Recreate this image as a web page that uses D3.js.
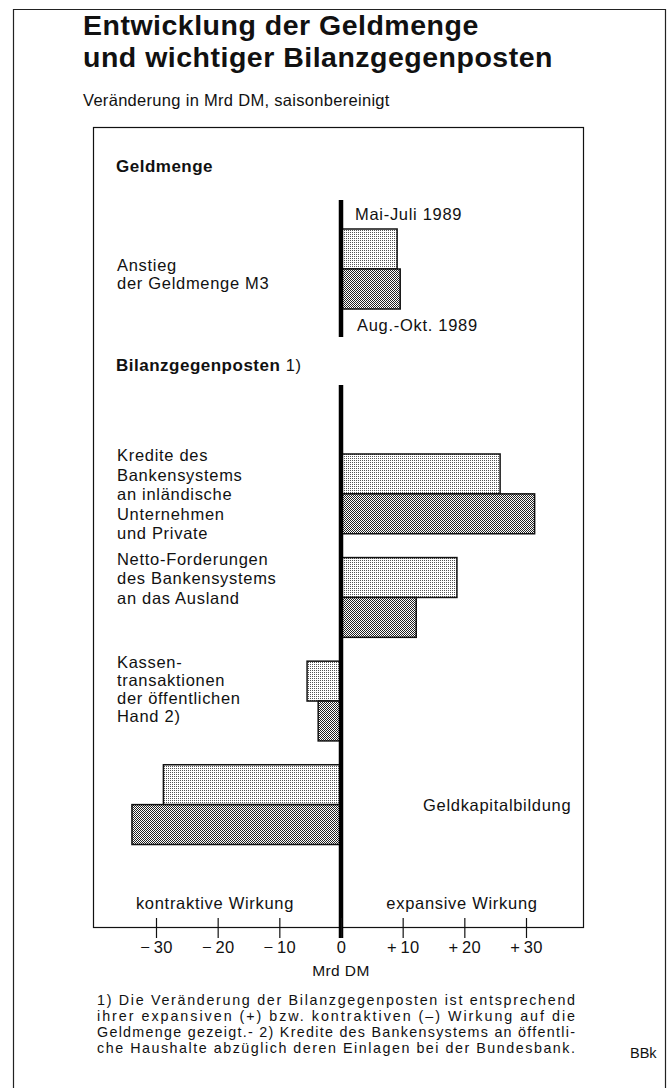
<!DOCTYPE html>
<html>
<head>
<meta charset="utf-8">
<script src="https://cdn.jsdelivr.net/npm/d3@7"></script>
<style>
  body { margin: 0; background: #fff; }
  svg text { font-family: "Liberation Sans", Arial, Helvetica, sans-serif; fill: #111; }
  .lab { font-size: 16.5px; letter-spacing: 0.7px; }
  .head { font-size: 17px; font-weight: bold; letter-spacing: 0.5px; }
  .foot { font-size: 14.3px; }
</style>
</head>
<body>
<svg id="chart" width="667" height="1088"></svg>
<script>
// Entwicklung der Geldmenge und wichtiger Bilanzgegenposten
// Veraenderung in Mrd DM, saisonbereinigt - two periods per item

const periods = ["Mai-Juli 1989", "Aug.-Okt. 1989"];

// Geldmenge M3
const m3Label = ["Anstieg", "der Geldmenge M3"];
const m3Values = [9.1, 9.6];

// Bilanzgegenposten
const posten = ["Kredite", "Netto-Forderungen", "Kassentransaktionen", "Geldkapitalbildung"];
const maiJuli = [25.8, 18.8, -5.5, -28.8];
const augOkt = [31.4, 12.2, -3.7, -33.9];
const postenLabels = [
    ["Kredite des", "Bankensystems", "an inländische", "Unternehmen", "und Private"],
    ["Netto-Forderungen", "des Bankensystems", "an das Ausland"],
    ["Kassen-", "transaktionen", "der öffentlichen", "Hand 2)"],
    ["Geldkapitalbildung"]
];

const tickValues = [-30, -20, -10, 0, 10, 20, 30];
const tickLabels = ["\u2212\u200930", "\u2212\u200920", "\u2212\u200910", "0", "+\u200910", "+\u200920", "+\u200930"];

const footnote = [
    "1) Die Veränderung der Bilanzgegenposten ist entsprechend",
    "ihrer expansiven (+) bzw. kontraktiven (\u2013) Wirkung auf die",
    "Geldmenge gezeigt.- 2) Kredite des Bankensystems an öffentli-",
    "che Haushalte abzüglich deren Einlagen bei der Bundesbank."
];

let svg = d3.select("#chart");

// box of the chart
let box = {left: 93, right: 583, top: 127, bottom: 927};

let x = d3.scaleLinear([-30, 30], [156, 526]);

// group scales, one for the M3 part, one for the gegenposten
let yM3 = d3.scaleBand(["M3"], [229, 309]).padding(0);
let yPosten = d3.scaleBand(posten, [454, 844.5]).paddingInner(0.23).paddingOuter(0);
let ySub = d3.scaleBand([0, 1], [0, yPosten.bandwidth()]);

// fill patterns like the printed raster
let defs = svg.append("defs");
let pLight = defs.append("pattern").attr("id", "light")
    .attr("width", 2).attr("height", 2).attr("patternUnits", "userSpaceOnUse");
pLight.append("rect").attr("width", 2).attr("height", 2).attr("fill", "#fff");
pLight.append("rect").attr("width", 1).attr("height", 1).attr("fill", "#555");

let pDark = defs.append("pattern").attr("id", "dark")
    .attr("width", 2).attr("height", 2).attr("patternUnits", "userSpaceOnUse");
pDark.append("rect").attr("width", 2).attr("height", 2).attr("fill", "#fff");
pDark.append("rect").attr("width", 1).attr("height", 1).attr("fill", "#222");
pDark.append("rect").attr("x", 1).attr("y", 1).attr("width", 1).attr("height", 1).attr("fill", "#222");

let fills = ["url(#light)", "url(#dark)"];

// outer frame
svg.append("path")
    .attr("d", "M13.5,1088 V9.5 H665.5 V1088")
    .attr("fill", "none").attr("stroke", "#222").attr("stroke-width", 1.2);

// title
svg.append("text").attr("x", 83).attr("y", 35)
    .attr("font-size", 28.5).attr("font-weight", "bold").attr("letter-spacing", 0.5)
    .text("Entwicklung der Geldmenge");
svg.append("text").attr("x", 83).attr("y", 67)
    .attr("font-size", 28.5).attr("font-weight", "bold").attr("letter-spacing", 0.5)
    .text("und wichtiger Bilanzgegenposten");
svg.append("text").attr("x", 83).attr("y", 106)
    .attr("font-size", 16.5).attr("letter-spacing", 0.3)
    .text("Veränderung in Mrd DM, saisonbereinigt");

// inner box
svg.append("rect")
    .attr("x", box.left + 0.5).attr("y", box.top + 0.5)
    .attr("width", box.right - box.left).attr("height", box.bottom - box.top)
    .attr("fill", "none").attr("stroke", "#111").attr("stroke-width", 1.2);

// section headings
svg.append("text").attr("class", "head").attr("x", 116).attr("y", 172).text("Geldmenge");
let h2 = svg.append("text").attr("class", "lab").attr("x", 116).attr("y", 371);
h2.append("tspan").attr("class", "head").text("Bilanzgegenposten");
h2.append("tspan").text(" 1)");

// M3 bars
let m3Data = m3Values.map((v, i) => ({v: v, i: i}));
svg.selectAll(".m3bar")
    .data(m3Data)
    .join("rect")
    .attr("class", "m3bar")
    .attr("x", d => x(Math.min(0, d.v)))
    .attr("y", d => yM3("M3") + d.i * yM3.bandwidth() / 2)
    .attr("width", d => Math.abs(x(d.v) - x(0)))
    .attr("height", yM3.bandwidth() / 2)
    .attr("fill", d => fills[d.i])
    .attr("stroke", "#111").attr("stroke-width", 1.5);

svg.append("text").attr("class", "lab").attr("x", 117).attr("y", 271).text(m3Label[0]);
svg.append("text").attr("class", "lab").attr("x", 117).attr("y", 289).text(m3Label[1]);

svg.append("text").attr("class", "lab").attr("x", x(0) + 14).attr("y", 220).text(periods[0]);
svg.append("text").attr("class", "lab").attr("x", x(0) + 16).attr("y", 331).text(periods[1]);

// gegenposten bars
let barData = [];
for (let k = 0; k < posten.length; k++) {
    barData.push({p: posten[k], i: 0, v: maiJuli[k]});
    barData.push({p: posten[k], i: 1, v: augOkt[k]});
}

svg.selectAll(".bar")
    .data(barData)
    .join("rect")
    .attr("class", "bar")
    .attr("x", d => x(Math.min(0, d.v)))
    .attr("y", d => yPosten(d.p) + ySub(d.i))
    .attr("width", d => Math.abs(x(d.v) - x(0)))
    .attr("height", ySub.bandwidth())
    .attr("fill", d => fills[d.i])
    .attr("stroke", "#111").attr("stroke-width", 1.5);

// category labels left, last one right of zero
let lineH = [19.5, 19.5, 18, 0];
for (let k = 0; k < 3; k++) {
    let t = svg.append("text").attr("class", "lab");
    postenLabels[k].forEach((s, j) => {
        t.append("tspan").attr("x", 117).attr("y", yPosten(posten[k]) + 7 + j * lineH[k]).text(s);
    });
}
svg.append("text").attr("class", "lab").attr("x", 423).attr("y", yPosten(posten[3]) + ySub.bandwidth() + 6)
    .text(postenLabels[3][0]);

// zero lines
svg.append("line").attr("x1", x(0)).attr("x2", x(0)).attr("y1", 200).attr("y2", 337)
    .attr("stroke", "#000").attr("stroke-width", 4.5);
svg.append("line").attr("x1", x(0)).attr("x2", x(0)).attr("y1", 385).attr("y2", 938)
    .attr("stroke", "#000").attr("stroke-width", 4.5);

// wirkung labels
svg.append("text").attr("class", "lab").attr("x", 215).attr("y", 909).attr("text-anchor", "middle")
    .text("kontraktive Wirkung");
svg.append("text").attr("class", "lab").attr("x", 462).attr("y", 909).attr("text-anchor", "middle")
    .text("expansive Wirkung");

// axis
let axis = d3.axisBottom(x)
    .tickValues(tickValues)
    .tickFormat((d, i) => tickLabels[i])
    .tickSize(20)
    .tickPadding(3);
let gAxis = svg.append("g").attr("transform", "translate(0,918)").call(axis);
gAxis.select(".domain").remove();
gAxis.selectAll("line").attr("stroke", "#111").attr("stroke-width", 1.2);
gAxis.selectAll("text")
    .attr("font-size", 16.5)
    .attr("letter-spacing", 0.3)
    .attr("font-family", "Liberation Sans, Arial, sans-serif")
    .attr("fill", "#111");

svg.append("text").attr("x", x(0)).attr("y", 976).attr("text-anchor", "middle")
    .attr("font-size", 15.5).attr("letter-spacing", 0.4).text("Mrd DM");

// footnote, justified
footnote.forEach((s, j) => {
    svg.append("text")
        .attr("class", "foot")
        .attr("x", 97).attr("y", 1005 + j * 16)
        .attr("textLength", 478).attr("lengthAdjust", "spacing")
        .text(s);
});

svg.append("text").attr("x", 630).attr("y", 1058).attr("font-size", 14.5).text("BBk");
</script>
</body>
</html>
